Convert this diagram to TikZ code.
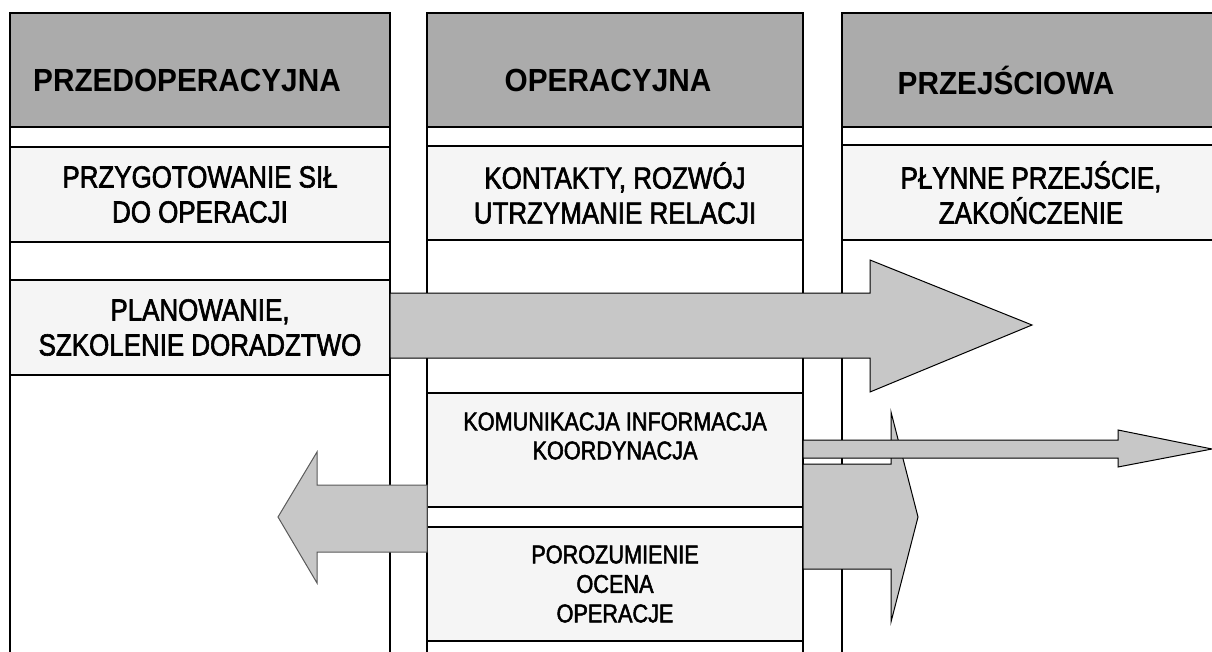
\documentclass[tikz,border=0pt]{standalone}
\usepackage{fontspec}
\setmainfont{Liberation Sans}
\newfontfamily\narrowsf[FakeStretch=0.85, FakeBold=2]{Liberation Sans}
\newfontfamily\headsf[FakeStretch=0.93]{Liberation Sans}
\usepackage{tikz}

\begin{document}
\begin{tikzpicture}[x=1pt, y=-1pt,
  colline/.style={line width=1.5pt},
  headbox/.style={draw, line width=1.5pt, fill=black!33, minimum height=114pt, inner sep=0pt},
  headtext/.style={font=\headsf\bfseries\fontsize{32pt}{36pt}\selectfont},
  textbox/.style={draw, line width=1.5pt, fill=black!4, minimum height=95pt, inner sep=0pt, align=center, font=\narrowsf\fontsize{30.5pt}{35pt}\selectfont},
  smallbox/.style={draw, line width=1.5pt, fill=black!4, minimum height=114pt, inner sep=0pt, align=center, font=\narrowsf\fontsize{25.5pt}{29.5pt}\selectfont},
  smalltext/.style={align=center, font=\narrowsf\fontsize{25.5pt}{29pt}\selectfont},
  blockarrow/.style={draw, line width=1pt, fill=black!22}]
\useasboundingbox (0,0) rectangle (1212,652);
% columns
\draw[colline] (10,652) -- (10,13) -- (390,13) -- (390,652);
\draw[colline] (427,652) -- (427,13) -- (803,13) -- (803,652);
\draw[colline] (842,652) -- (842,13) -- (1212,13);
%
\node[headbox, minimum width=380pt, label={[headtext, xshift=-13pt, yshift=-10pt]center:PRZEDOPERACYJNA}] (predop) at (200,70) {};
\node[headbox, minimum width=376pt, label={[headtext, xshift=-7pt, yshift=-10pt]center:OPERACYJNA}] (operac) at (615,70) {};
\node[headbox, minimum width=378pt, label={[headtext, xshift=-25pt, yshift=-10pt]center:PRZEJŚCIOWA}] (przejsc) at (1031,70) {};
%
\node[textbox, minimum width=380pt] (prep) at (200,194.5) {PRZYGOTOWANIE SIŁ\\DO OPERACJI};
\node[textbox, minimum width=380pt] (plan) at (200,327.5) {PLANOWANIE,\\SZKOLENIE DORADZTWO};
\node[textbox, minimum width=376pt, minimum height=94pt] (kontakty) at (615,193) {KONTAKTY, ROZWÓJ\\UTRZYMANIE RELACJI};
\node[textbox, minimum width=378pt] (plynne) at (1031,192.5) {PŁYNNE PRZEJŚCIE,\\ZAKOŃCZENIE};
\node[smallbox, minimum width=376pt, label={[smalltext, yshift=14pt]center:{KOMUNIKACJA INFORMACJA\\KOORDYNACJA}}] (komun) at (615,450) {};
\node[smallbox, minimum width=376pt] (poroz) at (615,584) {POROZUMIENIE\\OCENA\\OPERACJE};
% arrows
\draw[blockarrow] (390,293) -- (870,293) -- (870,260) -- (1032,325) -- (870,392) -- (870,358) -- (390,358) -- cycle;
\draw[blockarrow, draw=black!65] (427,485) -- (317,485) -- (317,452) -- (278,517) -- (317,583) -- (317,552) -- (427,552) -- cycle;
\draw[blockarrow] (803,464) -- (891,464) -- (891,412) -- (918,517) -- (891,622) -- (891,569) -- (803,569) -- cycle;
\draw[blockarrow] (803,440) -- (1118,440) -- (1118,430) -- (1212,449) -- (1118,467) -- (1118,458) -- (803,458) -- cycle;
\end{tikzpicture}
\end{document}
